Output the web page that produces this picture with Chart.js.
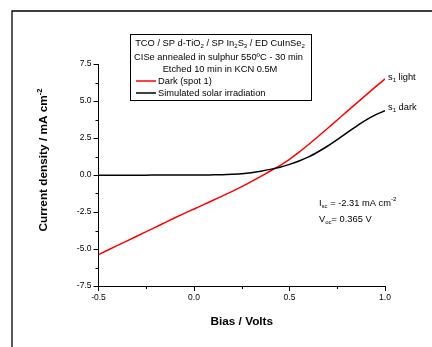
<!DOCTYPE html>
<html>
<head>
<meta charset="utf-8">
<style>
html,body{margin:0;padding:0;background:#fff;}
canvas{display:block;}
</style>
<script src="https://cdn.jsdelivr.net/npm/chart.js@4/dist/chart.umd.min.js"></script>
</head>
<body>
<canvas id="c" width="432" height="347"></canvas>
<script>
// ---- data ----
const biasV = [-0.50,-0.45,-0.40,-0.35,-0.30,-0.25,-0.20,-0.15,-0.10,-0.05,0.00,0.05,0.10,0.15,0.20,0.25,0.30,0.35,0.40,0.45,0.50,0.55,0.60,0.65,0.70,0.75,0.80,0.85,0.90,0.95,1.00];
const darkSpot1 = [-5.38,-5.07,-4.76,-4.45,-4.14,-3.83,-3.52,-3.20,-2.89,-2.59,-2.30,-2.00,-1.71,-1.41,-1.11,-0.79,-0.45,-0.09,0.27,0.64,1.06,1.54,2.06,2.60,3.16,3.72,4.28,4.84,5.40,5.95,6.49];
const solarIrr = [-0.02,-0.02,-0.01,-0.01,-0.01,-0.01,0.00,0.00,0.00,0.00,0.00,0.00,0.01,0.02,0.05,0.09,0.16,0.26,0.38,0.53,0.72,0.95,1.22,1.57,1.96,2.39,2.84,3.29,3.71,4.06,4.34];
const seriesLabels = ["Dark (spot 1)", "Simulated solar irradiation"];
const seriesColors = ["#ff0000", "#000000"];
const xTicks = [-0.5, 0.0, 0.5, 1.0];
const yTicks = [-7.5, -5.0, -2.5, 0.0, 2.5, 5.0, 7.5];
const xMinor = [-0.25, 0.25, 0.75];
const yMinor = [-6.25, -3.75, -1.25, 1.25, 3.75, 6.25];

const FONT = '"Liberation Sans", Arial, sans-serif';

function toPts(ys){ return biasV.map((x,i)=>({x:x,y:ys[i]})); }

// rich text: segments [text, mode] mode: '', 'sub', 'sup'
function richWidth(ctx, segs, size, bold){
  let w=0;
  for(const [t,m] of segs){
    const s = m ? size*0.65 : size;
    ctx.font = (bold?'bold ':'') + s + 'px ' + FONT;
    w += ctx.measureText(t).width;
  }
  return w;
}
function drawRich(ctx, segs, x, y, align, size, bold){
  const w = richWidth(ctx, segs, size, bold);
  let cx = align==='center' ? x - w/2 : (align==='right' ? x - w : x);
  ctx.textBaseline = 'middle';
  ctx.textAlign = 'left';
  for(const [t,m] of segs){
    const s = m ? size*0.65 : size;
    ctx.font = (bold?'bold ':'') + s + 'px ' + FONT;
    let dy = 0;
    if(m==='sub') dy = size*0.32;
    if(m==='sup') dy = -size*0.38;
    ctx.fillText(t, cx, y+dy);
    cx += ctx.measureText(t).width;
  }
}

const decor = {
  id:'decor',
  afterDraw(chart){
    const ctx = chart.ctx;
    const xs = chart.scales.x, ys = chart.scales.y;
    ctx.save();
    ctx.fillStyle = '#000';
    ctx.strokeStyle = '#000';
    // outer frame (top and left edges)
    ctx.lineWidth = 1.3;
    ctx.beginPath();
    ctx.moveTo(12, 347);
    ctx.lineTo(12, 11);
    ctx.lineTo(432, 11);
    ctx.stroke();
    // minor ticks
    ctx.lineWidth = 1;
    ctx.beginPath();
    for(const v of xMinor){
      const px = Math.round(xs.getPixelForValue(v))+0.5;
      ctx.moveTo(px, ys.bottom); ctx.lineTo(px, ys.bottom+3);
    }
    for(const v of yMinor){
      const py = Math.round(ys.getPixelForValue(v))+0.5;
      ctx.moveTo(xs.left, py); ctx.lineTo(xs.left-3, py);
    }
    ctx.stroke();
    // axis titles
    drawRich(ctx, [["Bias / Volts",""]], (xs.left+xs.right)/2, 322, 'center', 11.8, true);
    ctx.save();
    ctx.translate(44, 160);
    ctx.rotate(-Math.PI/2);
    drawRich(ctx, [["Current density / mA cm",""],["-2","sup"]], 0, 0, 'center', 11.8, true);
    ctx.restore();
    // legend box
    ctx.lineWidth = 1;
    ctx.strokeRect(130.5, 34.5, 181, 66);
    const ls = 9.3;
    drawRich(ctx, [["TCO / SP d-TiO",""],["2","sub"],[" / SP In",""],["2","sub"],["S",""],["3","sub"],[" / ED CuInSe",""],["2","sub"]], 220, 43.5, 'center', ls, false);
    drawRich(ctx, [["CISe annealed in sulphur 550ºC - 30 min",""]], 218.5, 57.5, 'center', ls, false);
    drawRich(ctx, [["Etched 10 min in KCN 0.5M",""]], 220, 69.5, 'center', ls, false);
    const rows = [81, 93];
    for(let i=0;i<2;i++){
      ctx.strokeStyle = seriesColors[i];
      ctx.lineWidth = 1.5;
      ctx.beginPath(); ctx.moveTo(136, rows[i]); ctx.lineTo(156, rows[i]); ctx.stroke();
      ctx.fillStyle = '#000';
      drawRich(ctx, [[seriesLabels[i],""]], 158, rows[i], 'left', ls, false);
    }
    // curve end labels
    ctx.fillStyle = '#000';
    drawRich(ctx, [["s",""],["1","sub"],[" light",""]], 388, 77, 'left', ls, false);
    drawRich(ctx, [["s",""],["1","sub"],[" dark",""]], 388, 107.5, 'left', ls, false);
    // Isc / Voc
    drawRich(ctx, [["I",""],["sc","sub"],[" = -2.31 mA cm",""],["-2","sup"]], 319, 203, 'left', ls, false);
    drawRich(ctx, [["V",""],["oc","sub"],["= 0.365 V",""]], 319, 219.5, 'left', ls, false);
    ctx.restore();
  }
};

new Chart(document.getElementById('c'), {
  type: 'scatter',
  data: {
    datasets: [
      {label: seriesLabels[1], data: toPts(solarIrr), showLine:true, borderColor: seriesColors[1], borderWidth:1.5, pointRadius:0, cubicInterpolationMode:'monotone', fill:false},
      {label: seriesLabels[0], data: toPts(darkSpot1), showLine:true, borderColor: seriesColors[0], borderWidth:1.5, pointRadius:0, cubicInterpolationMode:'monotone', fill:false}
    ]
  },
  options: {
    responsive:false,
    animation:false,
    devicePixelRatio:1,
    layout:{padding:{top:64, right:47, left:0, bottom:0}},
    plugins:{legend:{display:false}, tooltip:{enabled:false}},
    scales:{
      x:{
        type:'linear', min:-0.5, max:1.0,
        afterBuildTicks(s){ s.ticks = xTicks.map(v=>({value:v})); },
        afterFit(s){ s.height = 61; },
        ticks:{color:'#000', font:{size:8.5, family:FONT}, padding:2, maxRotation:0, callback:v=>v.toFixed(1)},
        grid:{drawOnChartArea:false, drawTicks:true, tickLength:5, color:'#000', tickWidth:1},
        border:{display:true, color:'#000', width:1}
      },
      y:{
        type:'linear', min:-7.5, max:7.5,
        afterBuildTicks(s){ s.ticks = yTicks.map(v=>({value:v})); },
        afterFit(s){ s.width = 98.5; },
        ticks:{color:'#000', font:{size:8.5, family:FONT}, padding:2, callback:v=>v.toFixed(1)},
        grid:{drawOnChartArea:false, drawTicks:true, tickLength:5, color:'#000', tickWidth:1},
        border:{display:true, color:'#000', width:1}
      }
    }
  },
  plugins:[decor]
});
</script>
</body>
</html>
